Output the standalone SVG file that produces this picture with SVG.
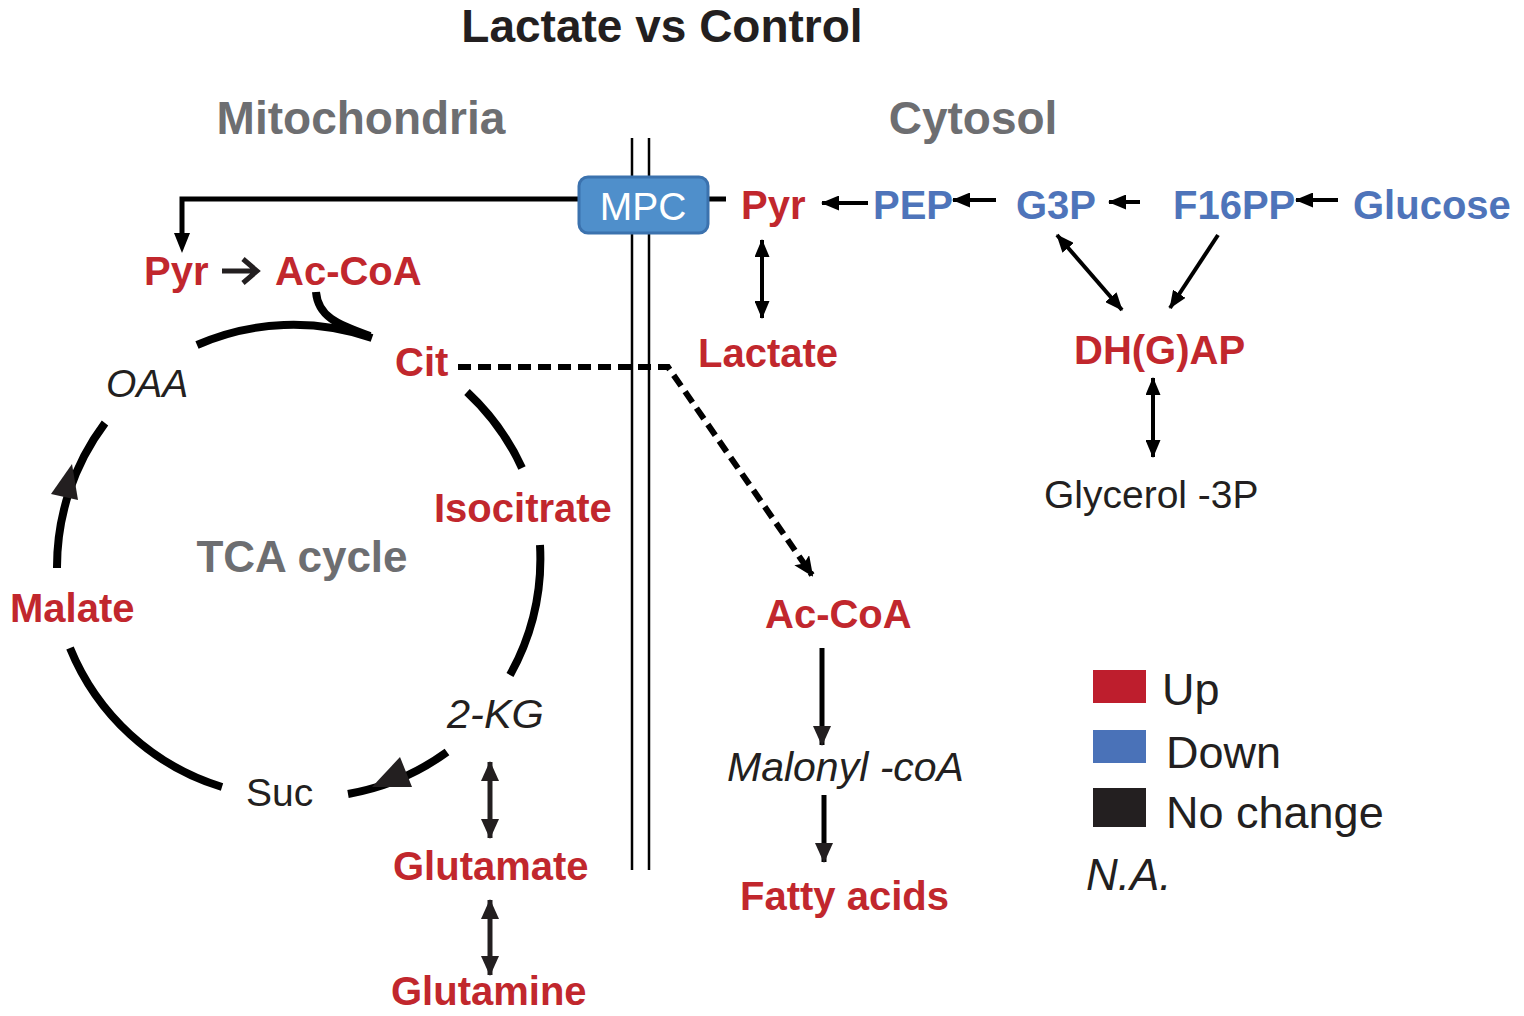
<svg xmlns="http://www.w3.org/2000/svg" width="1524" height="1016" viewBox="0 0 1524 1016">
<style>
text{font-family:"Liberation Sans",Arial,sans-serif}
.b{font-weight:bold;font-size:40px}
.red{fill:#C1272D}
.blue{fill:#4E74BA}
.gray{fill:#6D6E71;font-weight:bold}
.blk{fill:#231F20}
.reg{font-size:39px}
.it{font-style:italic;fill:#231F20}
.ln{fill:none;stroke:#000;stroke-width:4}
.thk{fill:none;stroke:#000;stroke-width:8}
.mem{fill:none;stroke:#000;stroke-width:2.5}
</style>
<defs>
<marker id="ah" markerUnits="userSpaceOnUse" markerWidth="18" markerHeight="15" refX="17" refY="7.5" orient="auto-start-reverse"><path d="M0,0 L18,7.5 L0,15 z" fill="#000"/></marker>
<marker id="ahb" markerUnits="userSpaceOnUse" markerWidth="20" markerHeight="18" refX="19" refY="9" orient="auto-start-reverse"><path d="M0,0 L20,9 L0,18 z" fill="#231F20"/></marker>
<marker id="ahd" markerUnits="userSpaceOnUse" markerWidth="20" markerHeight="18" refX="18" refY="9" orient="auto"><path d="M0,0 L20,9 L0,18 L4,9 z" fill="#000"/></marker>
</defs>
<rect width="1524" height="1016" fill="#fff"/>

<g id="headers">
<text x="662" y="42" text-anchor="middle" font-size="46" font-weight="bold" fill="#231F20">Lactate vs Control</text>
<text class="gray" x="361" y="134" text-anchor="middle" font-size="46">Mitochondria</text>
<text class="gray" x="973" y="134" text-anchor="middle" font-size="46">Cytosol</text>
</g>

<g id="membrane">
<line class="mem" x1="632" y1="138" x2="632" y2="870"/>
<line class="mem" x1="649" y1="138" x2="649" y2="870"/>
</g>

<g id="connectors">
<path d="M580,199 H182 V236" fill="none" stroke="#000" stroke-width="5"/>
<path d="M174,233 L190,233 L182,253 z" fill="#000"/>
<line x1="706" y1="199" x2="726" y2="199" stroke="#000" stroke-width="5"/>
<path d="M222,271 H255 M243,259 L257,271 L243,283" fill="none" stroke="#231F20" stroke-width="5"/>
<line class="ln" x1="868" y1="203" x2="822" y2="203" marker-end="url(#ah)"/>
<line class="ln" x1="996" y1="200" x2="953" y2="200" marker-end="url(#ah)"/>
<line class="ln" x1="1140" y1="202" x2="1109" y2="202" marker-end="url(#ah)"/>
<line class="ln" x1="1338" y1="200" x2="1296" y2="200" marker-end="url(#ah)"/>
<line class="ln" stroke-width="3" x1="762" y1="240" x2="762" y2="318" marker-start="url(#ah)" marker-end="url(#ah)"/>
<line class="ln" stroke-width="3.5" x1="1057" y1="235" x2="1122" y2="310" marker-start="url(#ah)" marker-end="url(#ah)"/>
<line class="ln" stroke-width="3.5" x1="1218" y1="235" x2="1170" y2="308" marker-end="url(#ah)"/>
<line class="ln" stroke-width="3" x1="1153" y1="378" x2="1153" y2="457" marker-start="url(#ah)" marker-end="url(#ah)"/>
<path d="M458,367 H668 L812,575" fill="none" stroke="#000" stroke-width="6" stroke-dasharray="13 7" marker-end="url(#ahd)"/>
<line x1="822" y1="648" x2="822" y2="745" stroke="#000" stroke-width="5" marker-end="url(#ahb)"/>
<line x1="824" y1="795" x2="824" y2="862" stroke="#000" stroke-width="5" marker-end="url(#ahb)"/>
<line x1="490" y1="762" x2="490" y2="838" stroke="#231F20" stroke-width="5" marker-start="url(#ahb)" marker-end="url(#ahb)"/>
<line x1="490" y1="900" x2="490" y2="975" stroke="#231F20" stroke-width="5" marker-start="url(#ahb)" marker-end="url(#ahb)"/>
</g>

<g id="tca-cycle">
<path class="thk" d="M197,345 A240,240 0 0 1 372,338"/>
<path class="thk" d="M316,292 C318,316 336,324 370,336"/>
<path class="thk" d="M467,392 A240,240 0 0 1 522,468"/>
<path class="thk" d="M540,545 A240,240 0 0 1 510,675"/>
<path class="thk" d="M447,752 A240,240 0 0 1 348,794"/>
<path d="M372,787 L412,787 L400,757 z" fill="#231F20"/>
<path class="thk" d="M222,787 A240,240 0 0 1 70,648"/>
<path class="thk" d="M57,568 A240,240 0 0 1 105,423"/>
<path d="M72,464 L78,500 L51,494 z" fill="#231F20"/>
<text class="gray" x="302" y="572" text-anchor="middle" font-size="44">TCA cycle</text>
</g>

<g id="mpc">
<rect x="579" y="177" width="129" height="56" rx="9" fill="#4F8FCB" stroke="#3B72AE" stroke-width="3"/>
<text x="643" y="220" text-anchor="middle" font-size="39" fill="#fff">MPC</text>
</g>

<g id="node-pyr-mito"><text class="b red" x="144" y="285">Pyr</text></g>
<g id="node-accoa-mito"><text class="b red" x="275" y="285">Ac-CoA</text></g>
<g id="node-cit"><text class="b red" x="395" y="376">Cit</text></g>
<g id="node-oaa"><text class="it" x="106" y="397" style="font-size:39px">OAA</text></g>
<g id="node-isocitrate"><text class="b red" x="434" y="522">Isocitrate</text></g>
<g id="node-malate"><text class="b red" x="10" y="622">Malate</text></g>
<g id="node-2kg"><text class="it" x="447" y="728" style="font-size:41.5px">2-KG</text></g>
<g id="node-suc"><text class="reg blk" x="246" y="806">Suc</text></g>
<g id="node-glutamate"><text class="b red" x="393" y="880">Glutamate</text></g>
<g id="node-glutamine"><text class="b red" x="391" y="1005">Glutamine</text></g>

<g id="node-pyr-cyto"><text class="b red" x="741" y="219">Pyr</text></g>
<g id="node-pep"><text class="b blue" x="873" y="219">PEP</text></g>
<g id="node-g3p"><text class="b blue" x="1016" y="219">G3P</text></g>
<g id="node-f16pp"><text class="b blue" x="1173" y="219">F16PP</text></g>
<g id="node-glucose"><text class="b blue" x="1353" y="219">Glucose</text></g>
<g id="node-lactate"><text class="b red" x="698" y="367">Lactate</text></g>
<g id="node-dhgap"><text class="b red" x="1074" y="364">DH(G)AP</text></g>
<g id="node-glycerol3p"><text class="reg blk" x="1044" y="508">Glycerol -3P</text></g>
<g id="node-accoa-cyto"><text class="b red" x="765" y="628">Ac-CoA</text></g>
<g id="node-malonyl"><text class="it" x="727" y="781" style="font-size:41px">Malonyl -coA</text></g>
<g id="node-fatty"><text class="b red" x="740" y="910">Fatty acids</text></g>

<g id="legend">
<rect x="1093" y="670" width="53" height="33" fill="#BE1E2D"/>
<rect x="1093" y="730" width="53" height="33" fill="#4A72B8"/>
<rect x="1093" y="788" width="53" height="39" fill="#231F20"/>
<text x="1162" y="705" font-size="45" fill="#231F20">Up</text>
<text x="1166" y="768" font-size="45" fill="#231F20">Down</text>
<text x="1166" y="828" font-size="45" fill="#231F20">No change</text>
<text x="1086" y="890" font-size="44" font-style="italic" fill="#231F20">N.A.</text>
</g>
</svg>
